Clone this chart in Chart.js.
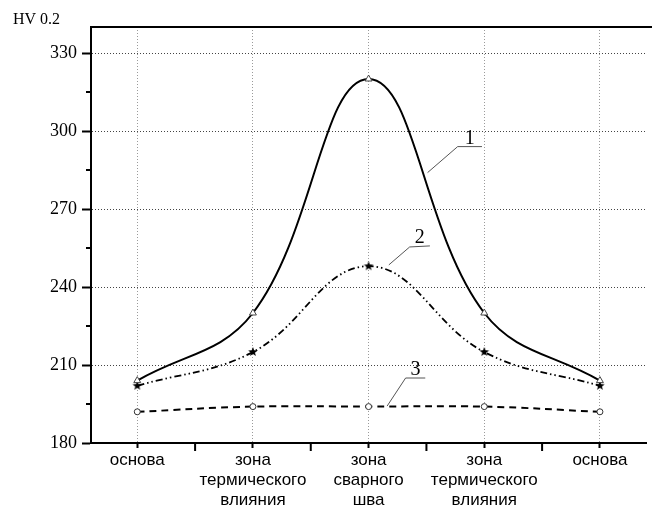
<!DOCTYPE html>
<html lang="ru">
  <head>
    <meta charset="UTF-8" />
    <title>HV 0.2 — твёрдость по зонам</title>
    <script src="https://cdn.jsdelivr.net/npm/chart.js"></script>
    <style>
      html,
      body {
        margin: 0;
        padding: 0;
        background: #ffffff;
      }
      #chart {
        display: block;
      }
    </style>
  </head>
  <body>
    <canvas id="chart" width="652" height="506"></canvas>

    <script>
      // categories along the weld (x positions 0..4)
      const categories = [
        ["основа"],
        ["зона", "термического", "влияния"],
        ["зона", "сварного", "шва"],
        ["зона", "термического", "влияния"],
        ["основа"],
      ];
      // hardness HV 0.2
      const curve1 = [204, 230, 320, 230, 204];
      const curve2 = [202, 215, 248, 215, 202];
      const curve3 = [192, 194, 194, 194, 192];
      const yTicks = [180, 210, 240, 270, 300, 330];
      const yMinorTicks = [195, 225, 255, 285, 315];
      const curveNames = ["1", "2", "3"];

      const toPoints = (arr) => arr.map((v, i) => ({ x: i, y: v }));

      // filled star marker for curve 2
      function makeStar(r) {
        const c = document.createElement("canvas");
        c.width = c.height = r * 2 + 2;
        const g = c.getContext("2d");
        g.translate(r + 1, r + 1);
        g.beginPath();
        for (let i = 0; i < 10; i++) {
          const rad = i % 2 === 0 ? r : r * 0.42;
          const a = -Math.PI / 2 + (i * Math.PI) / 5;
          g.lineTo(rad * Math.cos(a), rad * Math.sin(a));
        }
        g.closePath();
        g.fillStyle = "#000";
        g.fill();
        return c;
      }

      // leader lines for curve numbers, in data coords
      const leaders = [
        [[2.51, 284], [2.77, 294], [2.98, 294]],
        [[2.175, 248.5], [2.355, 255.4], [2.53, 255.8]],
        [[2.16, 194.2], [2.32, 205], [2.49, 205]],
      ];

      const extras = {
        id: "extras",
        afterDraw(chart) {
          const { ctx, chartArea: a, scales } = chart;
          const x = scales.x,
            y = scales.y;
          ctx.save();
          ctx.strokeStyle = "#000";
          ctx.lineWidth = 2;
          // top frame line
          ctx.beginPath();
          ctx.moveTo(a.left - 1, a.top);
          ctx.lineTo(chart.width, a.top);
          ctx.stroke();
          // minor y ticks
          ctx.beginPath();
          yMinorTicks.forEach((v) => {
            const py = y.getPixelForValue(v);
            ctx.moveTo(a.left - 5, py);
            ctx.lineTo(a.left, py);
          });
          // x ticks between categories
          for (let i = 0; i < categories.length - 1; i++) {
            const px = x.getPixelForValue(i + 0.5);
            ctx.moveTo(px, a.bottom);
            ctx.lineTo(px, a.bottom + 8);
          }
          ctx.stroke();

          // curve numbers
          ctx.strokeStyle = "#555";
          ctx.lineWidth = 1;
          ctx.fillStyle = "#000";
          ctx.font = '20px "Liberation Serif"';
          ctx.textAlign = "center";
          ctx.textBaseline = "alphabetic";
          leaders.forEach((pts, k) => {
            ctx.beginPath();
            pts.forEach(([vx, vy], j) => {
              const px = x.getPixelForValue(vx),
                py = y.getPixelForValue(vy);
              j ? ctx.lineTo(px, py) : ctx.moveTo(px, py);
            });
            ctx.stroke();
            const [m, n] = [pts[1], pts[2]];
            ctx.fillText(
              curveNames[k],
              (x.getPixelForValue(m[0]) + x.getPixelForValue(n[0])) / 2,
              y.getPixelForValue(n[1]) - 3
            );
          });

          // axis title
          ctx.textAlign = "left";
          ctx.font = '16px "Liberation Serif"';
          ctx.fillText("HV 0.2", 13, 24);
          ctx.restore();
        },
      };

      new Chart(document.getElementById("chart"), {
        type: "line",
        data: {
          datasets: [
            {
              data: toPoints(curve1),
              borderColor: "#000",
              borderWidth: 2,
              pointStyle: "triangle",
              pointRadius: 4,
              pointBorderWidth: 1,
              pointBorderColor: "#444",
              pointBackgroundColor: "#fff",
              tension: 0.4,
            },
            {
              data: toPoints(curve2),
              borderColor: "#000",
              borderWidth: 1.8,
              borderDash: [7, 3, 1.5, 3, 1.5, 3],
              pointStyle: makeStar(5),
              tension: 0.4,
            },
            {
              data: toPoints(curve3),
              borderColor: "#000",
              borderWidth: 2,
              borderDash: [7, 5],
              pointStyle: "circle",
              pointRadius: 3,
              pointBorderWidth: 1,
              pointBorderColor: "#333",
              pointBackgroundColor: "#fff",
              tension: 0.4,
            },
          ],
        },
        options: {
          responsive: false,
          animation: false,
          layout: { padding: { top: 27, right: 2, left: 0, bottom: 0 } },
          plugins: {
            legend: { display: false },
            tooltip: { enabled: false },
          },
          scales: {
            x: {
              type: "linear",
              min: -0.4,
              max: 4.4,
              afterBuildTicks: (s) => {
                s.ticks = categories.map((_, i) => ({ value: i }));
              },
              afterFit: (s) => {
                s.height = 63;
              },
              border: { display: true, color: "#000", width: 2, dash: [1, 2] },
              grid: {
                color: "#9a9a9a",
                lineWidth: 1,
                tickColor: "#000",
                tickWidth: 2,
                tickLength: 5,
                tickBorderDash: [],
              },
              ticks: {
                autoSkip: false,
                maxRotation: 0,
                padding: 2,
                color: "#000",
                font: { family: "Liberation Sans", size: 17, lineHeight: 1.18 },
                callback: (v) => categories[v],
              },
            },
            y: {
              min: 180,
              max: 340,
              afterBuildTicks: (s) => {
                s.ticks = yTicks.map((v) => ({ value: v }));
              },
              afterFit: (s) => {
                s.width = 91;
              },
              border: { display: true, color: "#000", width: 2, dash: [1, 2] },
              grid: {
                color: "#444",
                lineWidth: 1,
                tickColor: "#000",
                tickWidth: 2,
                tickLength: 9,
                tickBorderDash: [],
              },
              ticks: {
                padding: 5,
                color: "#000",
                font: { family: "Liberation Serif", size: 18 },
              },
            },
          },
        },
        plugins: [extras],
      });
    </script>
  </body>
</html>
